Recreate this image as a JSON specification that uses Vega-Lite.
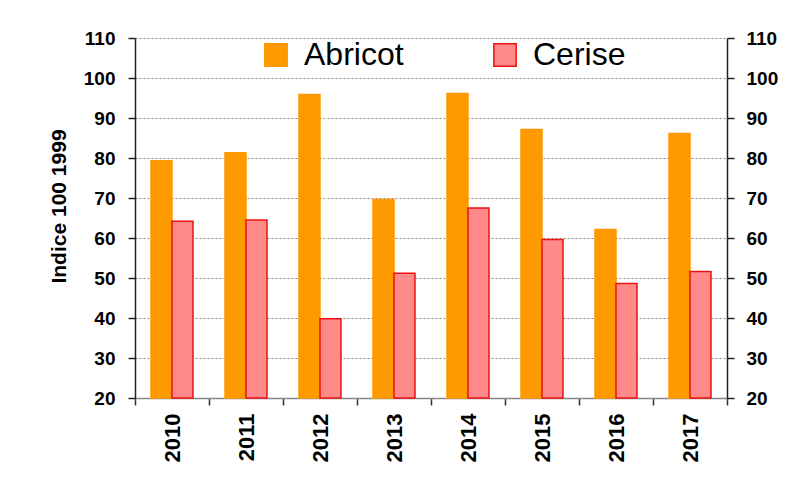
{
  "$schema": "https://vega.github.io/schema/vega-lite/v6.json",
  "width": 592,
  "height": 360,
  "autosize": {"type": "none"},
  "padding": {"left": 135, "top": 38, "right": 76, "bottom": 82},
  "background": "white",
  "config": {
    "font": "Liberation Sans",
    "view": {"stroke": null},
    "axis": {"labelFont": "Liberation Sans", "titleFont": "Liberation Sans"},
    "axisLeft": {"domain": true, "domainColor": "#222", "domainWidth": 1.5, "ticks": true, "tickColor": "#222", "tickWidth": 1.5, "tickSize": 7},
    "axisRight": {"domain": true, "domainColor": "#222", "domainWidth": 1.5, "ticks": true, "tickColor": "#222", "tickWidth": 1.5, "tickSize": 7}
  },
  "data": {
    "values": [
      {"annee": "2010", "fruit": "Abricot", "indice": 79.3},
      {"annee": "2010", "fruit": "Cerise", "indice": 64.2},
      {"annee": "2011", "fruit": "Abricot", "indice": 81.3},
      {"annee": "2011", "fruit": "Cerise", "indice": 64.5},
      {"annee": "2012", "fruit": "Abricot", "indice": 95.9},
      {"annee": "2012", "fruit": "Cerise", "indice": 39.8},
      {"annee": "2013", "fruit": "Abricot", "indice": 69.6},
      {"annee": "2013", "fruit": "Cerise", "indice": 51.2},
      {"annee": "2014", "fruit": "Abricot", "indice": 96.1},
      {"annee": "2014", "fruit": "Cerise", "indice": 67.5},
      {"annee": "2015", "fruit": "Abricot", "indice": 87.1},
      {"annee": "2015", "fruit": "Cerise", "indice": 59.6},
      {"annee": "2016", "fruit": "Abricot", "indice": 62.1},
      {"annee": "2016", "fruit": "Cerise", "indice": 48.6},
      {"annee": "2017", "fruit": "Abricot", "indice": 86.1},
      {"annee": "2017", "fruit": "Cerise", "indice": 51.6}
    ]
  },
  "encoding": {
    "x": {
      "field": "annee",
      "type": "nominal",
      "scale": {"paddingInner": 0, "paddingOuter": 0},
      "axis": {
        "title": null,
        "labelAngle": -90,
        "labelAlign": "right",
        "labelBaseline": "middle",
        "labelFontSize": 22,
        "labelFontWeight": "bold",
        "labelColor": "black",
        "labelPadding": 8,
        "tickBand": "extent",
        "ticks": true,
        "tickSize": 7,
        "tickWidth": 1.5,
        "tickColor": "#333",
        "domain": true,
        "domainColor": "#888",
        "domainWidth": 1.5
      }
    }
  },
  "layer": [
    {
      "mark": {"type": "bar", "strokeWidth": 1.5},
      "encoding": {
        "xOffset": {"field": "fruit", "type": "nominal", "scale": {"paddingInner": 0, "paddingOuter": 0.762}},
        "y": {
          "field": "indice",
          "type": "quantitative",
          "scale": {"domain": [20, 110], "zero": false, "nice": false},
          "axis": {
            "orient": "left",
            "title": "Indice 100 1999",
            "titleFontSize": 21,
            "titleFontWeight": "bold",
            "titleColor": "black",
            "titleX": -76,
            "titleY": 168,
            "titleAngle": -90,
            "titleBaseline": "middle",
            "titleAlign": "center",
            "values": [20, 30, 40, 50, 60, 70, 80, 90, 100, 110],
            "labelFontSize": 19,
            "labelFontWeight": "bold",
            "labelColor": "black",
            "labelPadding": 13,
            "grid": true,
            "gridColor": "#888",
            "gridDash": [2, 2],
            "gridWidth": 1
          }
        },
        "y2": {"datum": 20},
        "fill": {
          "field": "fruit",
          "type": "nominal",
          "scale": {"domain": ["Abricot", "Cerise"], "range": ["#FF9900", "#FF8A8A"]},
          "legend": {
            "title": null,
            "orient": "none",
            "legendX": 125,
            "legendY": 1,
            "direction": "horizontal",
            "symbolType": "square",
            "symbolSize": 500,
            "symbolStrokeWidth": 1.5,
            "labelFontSize": 32,
            "labelColor": "black",
            "labelOffset": 12,
            "columnPadding": 85
          }
        },
        "stroke": {
          "field": "fruit",
          "type": "nominal",
          "scale": {"domain": ["Abricot", "Cerise"], "range": ["#FF9900", "#EE1111"]},
          "legend": null
        }
      }
    },
    {
      "mark": {"type": "bar", "opacity": 0},
      "encoding": {
        "y": {
          "field": "indice",
          "type": "quantitative",
          "scale": {"domain": [20, 110], "zero": false, "nice": false},
          "axis": {
            "orient": "right",
            "title": null,
            "values": [20, 30, 40, 50, 60, 70, 80, 90, 100, 110],
            "labelFontSize": 19,
            "labelFontWeight": "bold",
            "labelColor": "black",
            "labelPadding": 12,
            "grid": false
          }
        },
        "y2": {"datum": 20}
      }
    }
  ],
  "resolve": {"scale": {"y": "independent"}}
}
